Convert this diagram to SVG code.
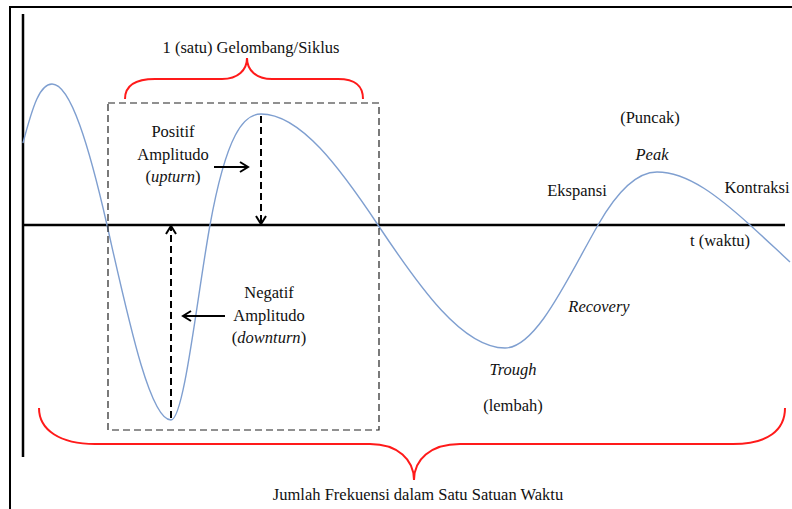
<svg xmlns="http://www.w3.org/2000/svg" width="792" height="509" viewBox="0 0 792 509">
<defs>
<style>
text{font-family:"Liberation Serif","Times New Roman",serif;font-size:16.5px;fill:#111;text-anchor:middle}
.it{font-style:italic}
.axis{stroke:#000;stroke-width:2.5;fill:none}
.wave{stroke:#7f9fd0;stroke-width:1.4;fill:none}
.brace{stroke:#ff1a1a;stroke-width:2;fill:none}
.dbox{stroke:#222;stroke-width:1.2;fill:none;stroke-dasharray:7,4}
.darr{stroke:#000;stroke-width:2;fill:none;stroke-dasharray:7,4}
.sarr{stroke:#000;stroke-width:2;fill:none}
</style>
<marker id="ah" viewBox="0 0 12 12" refX="10" refY="6" markerWidth="12" markerHeight="12" markerUnits="userSpaceOnUse" orient="auto">
<path d="M2,1 L10,6 L2,11" fill="none" stroke="#000" stroke-width="2"/>
</marker>
</defs>
<rect width="792" height="509" fill="#fff"/>
<path d="M10,509 L10,7 L792,7" fill="none" stroke="#000" stroke-width="2"/>
<g id="axes">
<line class="axis" x1="23" y1="14" x2="23" y2="457"/>
<line class="axis" x1="23" y1="225" x2="785" y2="225"/>
</g>
<path id="wave" class="wave" d="M23,143 C33,105 40,84 52,84 C70.5,84 89.1,146.3 107,225 C127.8,316.5 149.5,420 171,420 C184.1,420 197.3,294.9 210,225 C226.6,133.7 243.8,114 261,114 C300.4,114 339.9,167.9 378,225 C419.3,287 462.3,348 505,348 C536.3,348 567.7,278 598,225 C617.2,191.4 637.1,172 657,172 C688.3,172 719.7,197.7 750,225 C763,236.7 777,250 790,262"/>
<rect id="cycle-box" class="dbox" x="108" y="103" width="271" height="327"/>
<g id="braces">
<path class="brace" d="M125,99 C125,86 135,79 155,79 L222,79 C238,79 247,70 247,58 C247,70 256,79 272,79 L338,79 C356,79 363,86 363,99"/>
<path class="brace" d="M39,408 C39,430 60,444 95,444 L370,444 C398,444 414,460 414,480 C414,460 430,444 460,444 L733,444 C768,444 785,430 785,408"/>
</g>
<g id="connectors">
<line class="darr" x1="261" y1="116" x2="261" y2="224" marker-end="url(#ah)"/>
<line class="darr" x1="171" y1="418" x2="171" y2="226" marker-end="url(#ah)"/>
<line class="sarr" x1="214" y1="167" x2="248" y2="167" marker-end="url(#ah)"/>
<line class="sarr" x1="225" y1="316" x2="183" y2="316" marker-end="url(#ah)"/>
</g>
<g id="label-cycle"><text x="251" y="53">1 (satu) Gelombang/Siklus</text></g>
<g id="label-positive">
<text x="173" y="137">Positif</text>
<text x="173" y="160">Amplitudo</text>
<text x="173" y="182">(<tspan class="it">upturn</tspan>)</text>
</g>
<g id="label-negative">
<text x="269" y="298">Negatif</text>
<text x="269" y="321">Amplitudo</text>
<text x="269" y="343">(<tspan class="it">downturn</tspan>)</text>
</g>
<g id="label-peak">
<text x="650" y="123">(Puncak)</text>
<text class="it" x="652" y="160">Peak</text>
</g>
<g id="label-expansion"><text x="577" y="196">Ekspansi</text></g>
<g id="label-contraction"><text x="757" y="193">Kontraksi</text></g>
<g id="label-time"><text x="720" y="246">t (waktu)</text></g>
<g id="label-recovery"><text class="it" x="599" y="312">Recovery</text></g>
<g id="label-trough">
<text class="it" x="513" y="375">Trough</text>
<text x="513" y="411">(lembah)</text>
</g>
<g id="label-frequency"><text x="418" y="500">Jumlah Frekuensi dalam Satu Satuan Waktu</text></g>
</svg>
